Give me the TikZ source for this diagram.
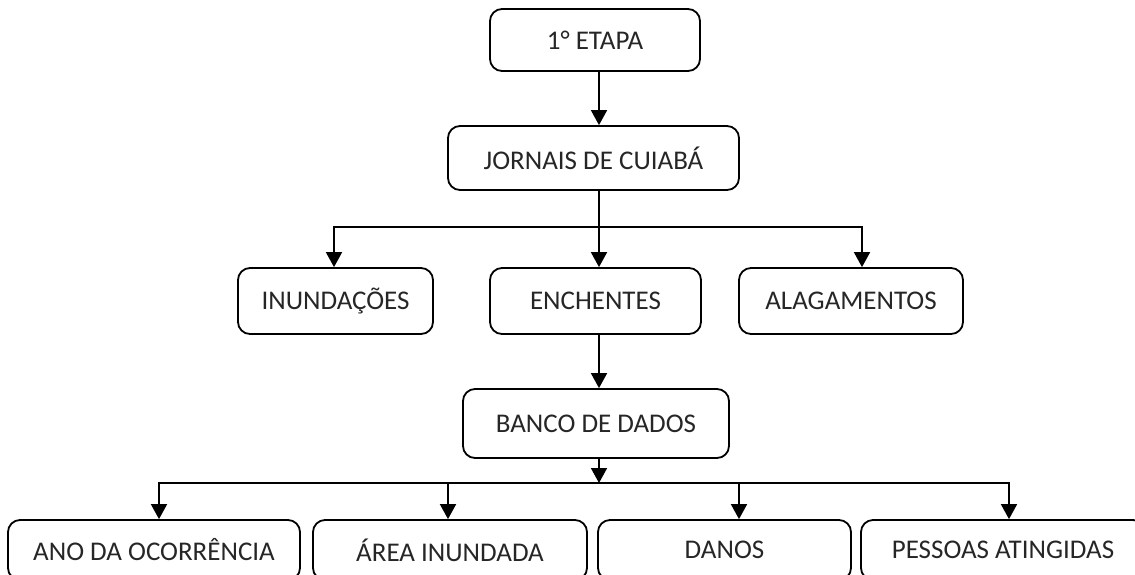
\documentclass[tikz,border=0pt]{standalone}
\usepackage{fontspec}
\setmainfont{Carlito}
\usetikzlibrary{arrows.meta}
\begin{document}
\begin{tikzpicture}[x=1pt,y=-1pt,
  box/.style={draw, rounded corners=12pt, line width=1.8pt, inner sep=0pt,
    font=\fontsize{27}{32}\selectfont, text=black!85},
  conn/.style={line width=1.8pt, -{Triangle[length=15pt,width=16pt]}},
  wire/.style={line width=1.8pt}]
\useasboundingbox (0,0) rectangle (1135,574);
\clip (0,0) rectangle (1135,574);
\node[box, minimum width=210pt, minimum height=62pt] (etapa) at (595,40) {1° ETAPA};
\node[box, minimum width=291pt, minimum height=64pt] (jornais) at (593.5,158) {JORNAIS DE CUIABÁ};
\node[box, minimum width=195pt, minimum height=66pt] (inund) at (335.5,301) {INUNDAÇÕES};
\node[box, minimum width=211pt, minimum height=66pt] (ench) at (595.5,301) {ENCHENTES};
\node[box, minimum width=224pt, minimum height=66pt] (alag) at (851,301) {ALAGAMENTOS};
\node[box, minimum width=266pt, minimum height=69pt] (banco) at (596,423.5) {BANCO DE DADOS};
\node[box, minimum width=292pt, minimum height=60pt] (ano) at (154,550) {ANO DA OCORRÊNCIA};
\node[box, minimum width=274pt, minimum height=60pt] (area) at (450,550) {ÁREA INUNDADA};
\node[box, minimum width=253pt, minimum height=60pt] (danos) at (724.5,550) {DANOS};
\node[box, minimum width=284pt, minimum height=60pt] (pessoas) at (1003,550) {PESSOAS ATINGIDAS};
\coordinate (bus1) at (599,227);
\coordinate (bus2) at (599,483);
\draw[conn] (etapa.south -| bus1) -- (jornais.north -| bus1);
\draw[conn] (jornais.south -| bus1) -- (ench.north -| bus1);
\draw[conn] (bus1) -| ([xshift=-1.5pt]inund.north);
\draw[conn] (bus1) -| ([xshift=11pt]alag.north);
\draw[conn] (ench.south -| bus1) -- (banco.north -| bus1);
\draw[conn] (banco.south -| bus1) -- (bus2);
\draw[conn] (bus2) -| ([xshift=5pt]ano.north);
\draw[conn] (bus2) -| ([xshift=-2pt]area.north);
\draw[conn] (bus2) -| ([xshift=14.5pt]danos.north);
\draw[conn] (bus2) -| ([xshift=6pt]pessoas.north);
\end{tikzpicture}
\end{document}
